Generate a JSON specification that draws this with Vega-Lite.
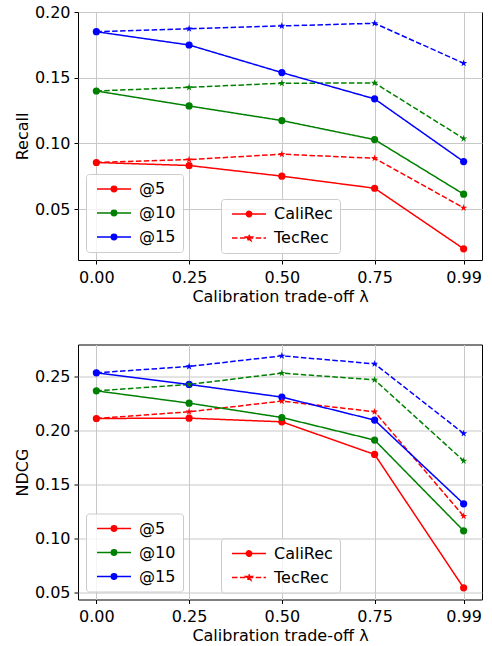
{
  "$schema": "https://vega.github.io/schema/vega-lite/v6.json",
  "padding": {"left": 13, "top": 3, "right": 0, "bottom": 0},
  "spacing": 38.5,
  "resolve": {"legend": {"color": "independent", "strokeDash": "independent"}},
  "config": {
    "font": "DejaVu Sans",
    "view": {"stroke": "#000000", "strokeWidth": 1},
    "axis": {"labelFont": "DejaVu Sans", "titleFont": "DejaVu Sans", "labelFontSize": 16, "titleFontSize": 16, "titleFontWeight": "normal", "labelColor": "#000000", "titleColor": "#000000", "tickColor": "#000000", "tickSize": 4, "tickWidth": 1, "domain": false, "gridColor": "#c8c8c8", "gridWidth": 1, "labelFlush": false},
    "axisX": {"labelPadding": 5, "titlePadding": 3},
    "axisY": {"labelPadding": 4, "titlePadding": 4},
    "legend": {"labelFont": "DejaVu Sans", "labelFontSize": 16, "labelColor": "#000000", "padding": 7, "rowPadding": 8, "fillColor": "rgba(255,255,255,0.8)", "strokeColor": "#cccccc", "cornerRadius": 3, "symbolSize": 100, "symbolStrokeWidth": 1.5, "symbolOffset": 13, "labelOffset": 17}
  },
  "datasets": {
    "d": [
      {"lam": 0, "k": "@5", "method": "CaliRec", "recall": 0.0855, "ndcg": 0.2114},
      {"lam": 0.25, "k": "@5", "method": "CaliRec", "recall": 0.0832, "ndcg": 0.2117},
      {"lam": 0.5, "k": "@5", "method": "CaliRec", "recall": 0.0751, "ndcg": 0.2083},
      {"lam": 0.75, "k": "@5", "method": "CaliRec", "recall": 0.0659, "ndcg": 0.1781},
      {"lam": 0.99, "k": "@5", "method": "CaliRec", "recall": 0.0198, "ndcg": 0.0546},
      {"lam": 0, "k": "@5", "method": "TecRec", "recall": 0.0855, "ndcg": 0.2114},
      {"lam": 0.25, "k": "@5", "method": "TecRec", "recall": 0.0877, "ndcg": 0.2176},
      {"lam": 0.5, "k": "@5", "method": "TecRec", "recall": 0.0918, "ndcg": 0.2275},
      {"lam": 0.75, "k": "@5", "method": "TecRec", "recall": 0.0887, "ndcg": 0.2176},
      {"lam": 0.99, "k": "@5", "method": "TecRec", "recall": 0.0510, "ndcg": 0.1210},
      {"lam": 0, "k": "@10", "method": "CaliRec", "recall": 0.1399, "ndcg": 0.2370},
      {"lam": 0.25, "k": "@10", "method": "CaliRec", "recall": 0.1285, "ndcg": 0.2256},
      {"lam": 0.5, "k": "@10", "method": "CaliRec", "recall": 0.1174, "ndcg": 0.2123},
      {"lam": 0.75, "k": "@10", "method": "CaliRec", "recall": 0.1029, "ndcg": 0.1914},
      {"lam": 0.99, "k": "@10", "method": "CaliRec", "recall": 0.0614, "ndcg": 0.1074},
      {"lam": 0, "k": "@10", "method": "TecRec", "recall": 0.1399, "ndcg": 0.2370},
      {"lam": 0.25, "k": "@10", "method": "TecRec", "recall": 0.1427, "ndcg": 0.2429},
      {"lam": 0.5, "k": "@10", "method": "TecRec", "recall": 0.1458, "ndcg": 0.2534},
      {"lam": 0.75, "k": "@10", "method": "TecRec", "recall": 0.1460, "ndcg": 0.2472},
      {"lam": 0.99, "k": "@10", "method": "TecRec", "recall": 0.1037, "ndcg": 0.1722},
      {"lam": 0, "k": "@15", "method": "CaliRec", "recall": 0.1850, "ndcg": 0.2537},
      {"lam": 0.25, "k": "@15", "method": "CaliRec", "recall": 0.1749, "ndcg": 0.2429},
      {"lam": 0.5, "k": "@15", "method": "CaliRec", "recall": 0.1539, "ndcg": 0.2312},
      {"lam": 0.75, "k": "@15", "method": "CaliRec", "recall": 0.1339, "ndcg": 0.2099},
      {"lam": 0.99, "k": "@15", "method": "CaliRec", "recall": 0.0862, "ndcg": 0.1324},
      {"lam": 0, "k": "@15", "method": "TecRec", "recall": 0.1850, "ndcg": 0.2537},
      {"lam": 0.25, "k": "@15", "method": "TecRec", "recall": 0.1873, "ndcg": 0.2596},
      {"lam": 0.5, "k": "@15", "method": "TecRec", "recall": 0.1894, "ndcg": 0.2694},
      {"lam": 0.75, "k": "@15", "method": "TecRec", "recall": 0.1914, "ndcg": 0.2620},
      {"lam": 0.99, "k": "@15", "method": "TecRec", "recall": 0.1610, "ndcg": 0.1975}
    ]
  },
  "vconcat": [
    {
      "width": 404,
      "height": 248,
      "data": {"name": "d"},
      "encoding": {
        "x": {"field": "lam", "type": "quantitative", "scale": {"domain": [-0.0495, 1.0395], "nice": false, "zero": false}, "axis": {"values": [0, 0.25, 0.5, 0.75, 0.99], "format": ".2f", "title": "Calibration trade-off λ"}},
        "y": {"field": "recall", "type": "quantitative", "scale": {"domain": [0.0113, 0.2], "nice": false, "zero": false}, "axis": {"values": [0.05, 0.1, 0.15, 0.2], "format": ".2f", "title": "Recall"}}
      },
      "layer": [
        {
          "mark": {"type": "line", "strokeWidth": 1.5},
          "encoding": {
            "color": {"field": "k", "type": "nominal", "scale": {"domain": ["@5", "@10", "@15"], "range": ["#ff0000", "#008000", "#0000ff"]}, "legend": {"orient": "none", "legendX": 8, "legendY": 162, "title": null, "symbolType": "M-3.4,0H3.4M0.54,0A0.54,0.54,0,1,1,-0.54,0A0.54,0.54,0,1,1,0.54,0Z", "encoding": {"symbols": {"fill": {"condition": [{"test": "datum.value === '@5'", "value": "#ff0000"}, {"test": "datum.value === '@10'", "value": "#008000"}], "value": "#0000ff"}}}}},
            "strokeDash": {"field": "method", "type": "nominal", "scale": {"domain": ["CaliRec", "TecRec"], "range": [[1, 0], [5.5, 2.4]]}, "legend": {"orient": "none", "legendX": 143, "legendY": 187, "title": null, "symbolType": "M-3.4,0H3.4M0.54,0A0.54,0.54,0,1,1,-0.54,0A0.54,0.54,0,1,1,0.54,0Z", "symbolStrokeColor": "#ff0000", "symbolFillColor": "#ff0000", "encoding": {"symbols": {"fill": {"value": "#ff0000"}, "stroke": {"value": "#ff0000"}, "shape": {"condition": {"test": "datum.value === 'TecRec'", "value": "M-3.4,0H3.4M0,-0.65L0.146,-0.2L0.618,-0.2L0.236,0.077L0.382,0.526L0,0.248L-0.382,0.526L-0.236,0.077L-0.618,-0.2L-0.146,-0.2Z"}, "value": "M-3.4,0H3.4M0.54,0A0.54,0.54,0,1,1,-0.54,0A0.54,0.54,0,1,1,0.54,0Z"}}}}}
          }
        },
        {
          "transform": [{"filter": "datum.method === 'CaliRec'"}],
          "mark": {"type": "point", "filled": true, "opacity": 1, "size": 52, "shape": "circle"},
          "encoding": {
            "color": {"field": "k", "type": "nominal", "scale": {"domain": ["@5", "@10", "@15"], "range": ["#ff0000", "#008000", "#0000ff"]}, "legend": null}
          }
        },
        {
          "transform": [{"filter": "datum.method === 'TecRec'"}],
          "mark": {"type": "point", "filled": true, "opacity": 1, "size": 58, "shape": "M0,-1L0.2245,-0.309L0.951,-0.309L0.363,0.118L0.588,0.809L0,0.382L-0.588,0.809L-0.363,0.118L-0.951,-0.309L-0.2245,-0.309Z"},
          "encoding": {
            "color": {"field": "k", "type": "nominal", "scale": {"domain": ["@5", "@10", "@15"], "range": ["#ff0000", "#008000", "#0000ff"]}, "legend": null}
          }
        }
      ]
    },
    {
      "width": 404,
      "height": 255,
      "data": {"name": "d"},
      "encoding": {
        "x": {"field": "lam", "type": "quantitative", "scale": {"domain": [-0.0495, 1.0395], "nice": false, "zero": false}, "axis": {"values": [0, 0.25, 0.5, 0.75, 0.99], "format": ".2f", "title": "Calibration trade-off λ"}},
        "y": {"field": "ndcg", "type": "quantitative", "scale": {"domain": [0.0438, 0.2799], "nice": false, "zero": false}, "axis": {"values": [0.05, 0.1, 0.15, 0.2, 0.25], "format": ".2f", "title": "NDCG"}}
      },
      "layer": [
        {
          "mark": {"type": "line", "strokeWidth": 1.5},
          "encoding": {
            "color": {"field": "k", "type": "nominal", "scale": {"domain": ["@5", "@10", "@15"], "range": ["#ff0000", "#008000", "#0000ff"]}, "legend": {"orient": "none", "legendX": 8, "legendY": 169, "title": null, "symbolType": "M-3.4,0H3.4M0.54,0A0.54,0.54,0,1,1,-0.54,0A0.54,0.54,0,1,1,0.54,0Z", "encoding": {"symbols": {"fill": {"condition": [{"test": "datum.value === '@5'", "value": "#ff0000"}, {"test": "datum.value === '@10'", "value": "#008000"}], "value": "#0000ff"}}}}},
            "strokeDash": {"field": "method", "type": "nominal", "scale": {"domain": ["CaliRec", "TecRec"], "range": [[1, 0], [5.5, 2.4]]}, "legend": {"orient": "none", "legendX": 143, "legendY": 194, "title": null, "symbolType": "M-3.4,0H3.4M0.54,0A0.54,0.54,0,1,1,-0.54,0A0.54,0.54,0,1,1,0.54,0Z", "symbolStrokeColor": "#ff0000", "symbolFillColor": "#ff0000", "encoding": {"symbols": {"fill": {"value": "#ff0000"}, "stroke": {"value": "#ff0000"}, "shape": {"condition": {"test": "datum.value === 'TecRec'", "value": "M-3.4,0H3.4M0,-0.65L0.146,-0.2L0.618,-0.2L0.236,0.077L0.382,0.526L0,0.248L-0.382,0.526L-0.236,0.077L-0.618,-0.2L-0.146,-0.2Z"}, "value": "M-3.4,0H3.4M0.54,0A0.54,0.54,0,1,1,-0.54,0A0.54,0.54,0,1,1,0.54,0Z"}}}}}
          }
        },
        {
          "transform": [{"filter": "datum.method === 'CaliRec'"}],
          "mark": {"type": "point", "filled": true, "opacity": 1, "size": 52, "shape": "circle"},
          "encoding": {
            "color": {"field": "k", "type": "nominal", "scale": {"domain": ["@5", "@10", "@15"], "range": ["#ff0000", "#008000", "#0000ff"]}, "legend": null}
          }
        },
        {
          "transform": [{"filter": "datum.method === 'TecRec'"}],
          "mark": {"type": "point", "filled": true, "opacity": 1, "size": 58, "shape": "M0,-1L0.2245,-0.309L0.951,-0.309L0.363,0.118L0.588,0.809L0,0.382L-0.588,0.809L-0.363,0.118L-0.951,-0.309L-0.2245,-0.309Z"},
          "encoding": {
            "color": {"field": "k", "type": "nominal", "scale": {"domain": ["@5", "@10", "@15"], "range": ["#ff0000", "#008000", "#0000ff"]}, "legend": null}
          }
        }
      ]
    }
  ]
}
